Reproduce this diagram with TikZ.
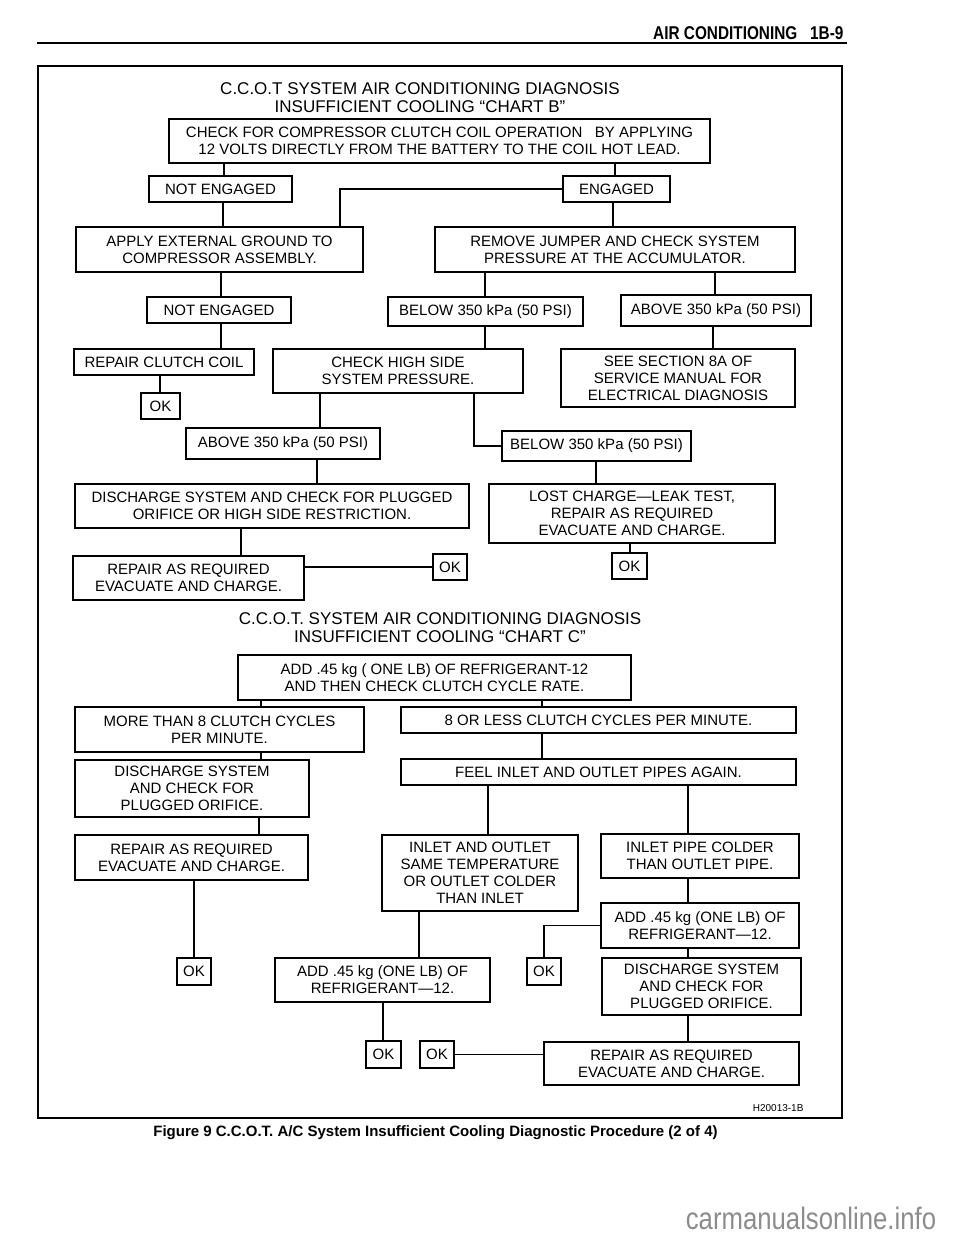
\documentclass[tikz,border=0pt]{standalone}
\usepackage{fontspec}
\setmainfont{Liberation Sans}
\newfontfamily\condfont{Liberation Sans}[FakeStretch=0.83]
\newcommand{\boxfont}{\fontsize{15}{17}\selectfont}
\newcommand{\titlefont}{\fontsize{17}{18}\selectfont}

\begin{document}
\begin{tikzpicture}[x=1pt, y=-1pt,
    box/.style={draw, line width=1.3pt, align=center, inner sep=0pt, font=\boxfont},
    con/.style={line width=1.6pt}]
    \useasboundingbox (0,0) rectangle (960,1242);
    % Page header
    \node[anchor=base east, font=\condfont\bfseries\fontsize{18.5}{20}\selectfont] (hdr) at (847,39) {AIR CONDITIONING\ \ \ 1B-9};
    \draw[line width=2pt] (37,43) -- (847,43);
    % Frame
    \draw[line width=2pt] (38,66) rectangle (842,1118);

    % Chart B
    \node[align=center, font=\titlefont] (ttlb) at (420,97.5) {C.C.O.T SYSTEM AIR CONDITIONING DIAGNOSIS\\INSUFFICIENT COOLING “CHART B”};
    \node[box, minimum width=541, minimum height=44] (chk) at (439.5,141) {CHECK FOR COMPRESSOR CLUTCH COIL OPERATION\ \ \ BY APPLYING\\12 VOLTS DIRECTLY FROM THE BATTERY TO THE COIL HOT LEAD.};
    \node[box, minimum width=143, minimum height=26] (ne1) at (220.5,189) {NOT ENGAGED};
    \node[box, minimum width=107, minimum height=26] (eng) at (616.5,189) {ENGAGED};
    \node[box, minimum width=287, minimum height=45] (gnd) at (219.5,249.5) {APPLY EXTERNAL GROUND TO\\COMPRESSOR ASSEMBLY.};
    \node[box, minimum width=360, minimum height=45] (rmv) at (615,249.5) {REMOVE JUMPER AND CHECK SYSTEM\\PRESSURE AT THE ACCUMULATOR.};
    \node[box, minimum width=144, minimum height=26] (ne2) at (219,310) {NOT ENGAGED};
    \node[box, minimum width=195, minimum height=29] (blw1) at (485.5,311.5) {BELOW 350 kPa (50 PSI)};
    \node[box, minimum width=190, minimum height=31] (abv1) at (716,310.5) {ABOVE 350 kPa (50 PSI)};
    \node[box, minimum width=180, minimum height=26] (rcc) at (164,362) {REPAIR CLUTCH COIL};
    \node[box, minimum width=250, minimum height=44] (hsd) at (398,371) {CHECK HIGH SIDE\\SYSTEM PRESSURE.};
    \node[box, minimum width=234, minimum height=58] (sec) at (678,378) {SEE SECTION 8A OF\\SERVICE MANUAL FOR\\ELECTRICAL DIAGNOSIS};
    \node[box, minimum width=39, minimum height=26] (ok1) at (160.5,406) {OK};
    \node[box, minimum width=194, minimum height=31] (abv2) at (283,443.5) {ABOVE 350 kPa (50 PSI)};
    \node[box, minimum width=189, minimum height=30] (blw2) at (596.5,446) {BELOW 350 kPa (50 PSI)};
    \node[box, minimum width=394, minimum height=44] (dsc1) at (272,506) {DISCHARGE SYSTEM AND CHECK FOR PLUGGED\\ORIFICE OR HIGH SIDE RESTRICTION.};
    \node[box, minimum width=286, minimum height=59] (lost) at (632,513.5) {LOST CHARGE—LEAK TEST,\\REPAIR AS REQUIRED\\EVACUATE AND CHARGE.};
    \node[box, minimum width=231, minimum height=44] (rep1) at (188.5,578) {REPAIR AS REQUIRED\\EVACUATE AND CHARGE.};
    \node[box, minimum width=34, minimum height=26] (ok2) at (450,567) {OK};
    \node[box, minimum width=35, minimum height=26] (ok3) at (629.5,566) {OK};

    % Chart B connectors
    \foreach \x/\a/\b in {224/chk/ne1, 615/chk/eng, 223/ne1/gnd, 613/eng/rmv, 221/gnd/ne2,
        485/rmv/blw1, 715/rmv/abv1, 221/ne2/rcc, 485/blw1/hsd, 713/abv1/sec, 160/rcc/ok1,
        320/hsd/abv2, 317/abv2/dsc1, 596/blw2/lost, 241/dsc1/rep1, 630/lost/ok3}
    {
        \draw[con] (\a.south -| \x,0) -- (\b.north -| \x,0);
    }
    \draw[con] (eng.west) -| (gnd.north -| 340,0);
    \draw[con] (hsd.south -| 474,0) |- (blw2.west);
    \draw[con] (rep1.east |- ok2.west) -- (ok2.west);

    % Chart C
    \node[align=center, font=\titlefont] (ttlc) at (440,628) {C.C.O.T. SYSTEM AIR CONDITIONING DIAGNOSIS\\INSUFFICIENT COOLING “CHART C”};
    \node[box, minimum width=393, minimum height=45] (add) at (434.5,677.5) {ADD .45 kg ( ONE LB) OF REFRIGERANT-12\\AND THEN CHECK CLUTCH CYCLE RATE.};
    \node[box, minimum width=289, minimum height=45] (more) at (219.5,729.5) {MORE THAN 8 CLUTCH CYCLES\\PER MINUTE.};
    \node[box, minimum width=395, minimum height=26] (less) at (598.5,720) {8 OR LESS CLUTCH CYCLES PER MINUTE.};
    \node[box, minimum width=234, minimum height=57] (dscc) at (192,788.5) {DISCHARGE SYSTEM\\AND CHECK FOR\\PLUGGED ORIFICE.};
    \node[box, minimum width=395, minimum height=26] (feel) at (598.5,772) {FEEL INLET AND OUTLET PIPES AGAIN.};
    \node[box, minimum width=233, minimum height=45] (repc) at (191.5,857.5) {REPAIR AS REQUIRED\\EVACUATE AND CHARGE.};
    \node[box, minimum width=196, minimum height=76] (io) at (480,873) {INLET AND OUTLET\\SAME TEMPERATURE\\OR OUTLET COLDER\\THAN INLET};
    \node[box, minimum width=198, minimum height=44] (pipe) at (700,856) {INLET PIPE COLDER\\THAN OUTLET PIPE.};
    \node[box, minimum width=198, minimum height=45] (addr) at (700,925.5) {ADD .45 kg (ONE LB) OF\\REFRIGERANT—12.};
    \node[box, minimum width=34, minimum height=27] (okc1) at (194,971.5) {OK};
    \node[box, minimum width=215, minimum height=44] (addm) at (382.5,980) {ADD .45 kg (ONE LB) OF\\REFRIGERANT—12.};
    \node[box, minimum width=34, minimum height=27] (okc3) at (544,971.5) {OK};
    \node[box, minimum width=199, minimum height=57] (dscr) at (701.5,986.5) {DISCHARGE SYSTEM\\AND CHECK FOR\\PLUGGED ORIFICE.};
    \node[box, minimum width=35, minimum height=27] (okc4) at (383.5,1054.5) {OK};
    \node[box, minimum width=34, minimum height=27] (okc5) at (437,1054.5) {OK};
    \node[box, minimum width=255, minimum height=43] (repr) at (671.5,1063.5) {REPAIR AS REQUIRED\\EVACUATE AND CHARGE.};

    % Chart C connectors
    \foreach \x/\a/\b in {261/add/more, 542/add/less, 261/more/dscc, 542/less/feel, 488/feel/io,
        688/feel/pipe, 259/dscc/repc, 194/repc/okc1, 419/io/addm, 688/pipe/addr, 688/addr/dscr,
        688/dscr/repr, 383/addm/okc4}
    {
        \draw[con] (\a.south -| \x,0) -- (\b.north -| \x,0);
    }
    \draw[con] (addr.west) -| (okc3.north);
    \draw[con] (repr.west |- okc5.east) -- (okc5.east);

    % Figure number and caption
    \node[anchor=east, font=\fontsize{10}{12}\selectfont] (fig) at (807,1108) {H20013-1B};
    \node[font=\bfseries\fontsize{15}{17}\selectfont] (cap) at (435.5,1133) {Figure 9 C.C.O.T. A/C System Insufficient Cooling Diagnostic Procedure (2 of 4)};
    % Watermark
    \node[text=black!45, font=\condfont\fontsize{31}{33}\selectfont] (wm) at (811,1218) {carmanualsonline.info};
\end{tikzpicture}
\end{document}
